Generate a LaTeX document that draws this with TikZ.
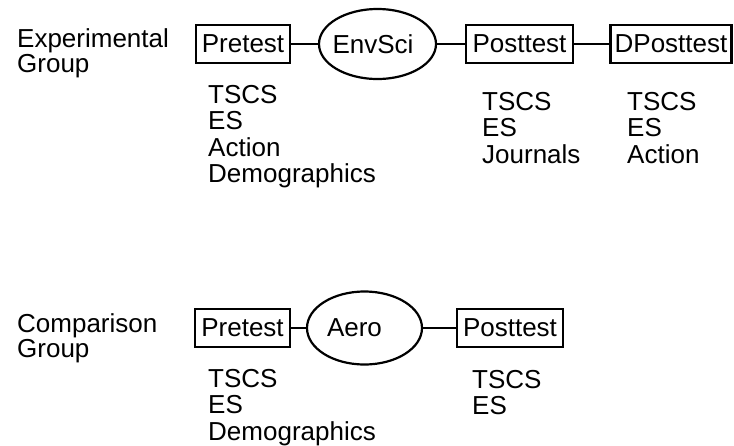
\documentclass[tikz,border=0pt]{standalone}
\usepackage{fontspec}
\setmainfont{Liberation Sans}
\usetikzlibrary{shapes.geometric}
\begin{document}
\begin{tikzpicture}[x=1pt,y=-1pt,
  box/.style={draw,line width=2.2pt,inner xsep=4pt,inner ysep=0pt,minimum height=38pt,font=\fontsize{26}{26}\selectfont},
  oval/.style={draw,ellipse,line width=2.2pt,inner sep=0pt,font=\fontsize{26}{26}\selectfont},
  lbl/.style={align=left,anchor=base west,inner sep=0pt,font=\fontsize{26}{22}\selectfont},
  lst/.style={align=left,anchor=base west,inner sep=0pt,font=\fontsize{26}{26.5}\selectfont},
  link/.style={line width=2pt}]
\useasboundingbox (0,0) rectangle (734,445);
% Experimental group
\node[lbl] (expl) at (17,72) {Experimental\\Group};
\node[box,minimum width=94pt] (pre1) at (243,44) {Pretest};
\node[oval,inner xsep=-4pt,minimum width=117pt,minimum height=70pt] (env) at (377.5,44) {EnvSci\hspace*{9pt}};
\node[box,minimum width=107pt] (post1) at (519.5,44) {Posttest};
\node[box,minimum width=121pt] (dpost) at (671,44) {DPosttest};
\draw[link] (pre1.east) -- (env.west);
\draw[link] (env.east) -- (post1.west);
\draw[link] (post1.east) -- (dpost.west);
\node[lst] (pre1l) at (208,182.5) {TSCS\\ES\\Action\\Demographics};
\node[lst] (post1l) at (482,163) {TSCS\\ES\\Journals};
\node[lst] (dpostl) at (627,163) {TSCS\\ES\\Action};
% Comparison group
\node[lbl] (coml) at (17,357) {Comparison\\Group};
\node[box,minimum width=95pt] (pre2) at (242.5,328) {Pretest};
\node[oval,minimum width=115pt,minimum height=73pt] (aero) at (364.5,328) {Aero\hspace*{20pt}};
\node[box,minimum width=106pt] (post2) at (510,328) {Posttest};
\draw[link] (pre2.east) -- (aero.west);
\draw[link] (aero.east) -- (post2.west);
\node[lst] (pre2l) at (208,440) {TSCS\\ES\\Demographics};
\node[lst] (post2l) at (472,414.5) {TSCS\\ES};
\end{tikzpicture}
\end{document}
